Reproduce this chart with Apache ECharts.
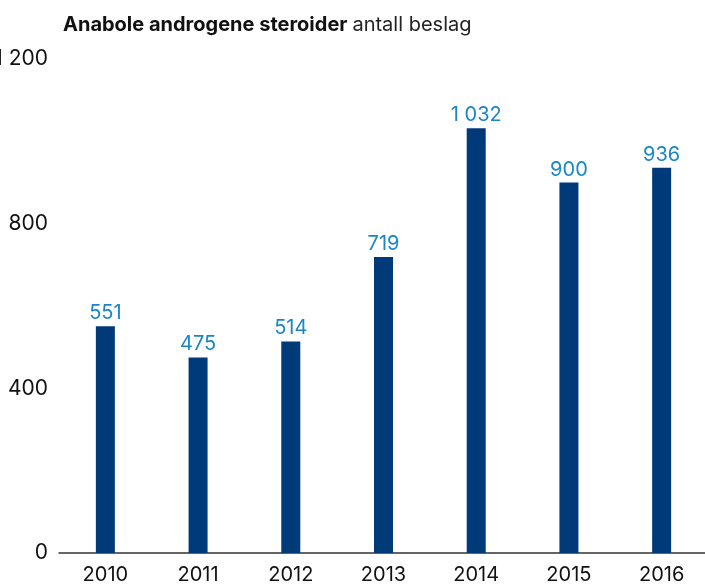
<!DOCTYPE html>
<html>
<head>
<meta charset="utf-8">
<script src="https://cdn.jsdelivr.net/npm/echarts@6/dist/echarts.min.js"></script>
<style>
  html, body { margin: 0; padding: 0; background: #fff; }
  #chart { width: 705px; height: 587px; }
</style>
</head>
<body>
<div id="chart"></div>
<script>
// data
const years = ['2010', '2011', '2012', '2013', '2014', '2015', '2016'];
const seizures = [551, 475, 514, 719, 1032, 900, 936];
const yTicks = [0, 400, 800, 1200];

const barColor = '#003a78';
const labelColor = '#1a86c8';
const font = 'Inter, Roboto, sans-serif';

// thousands with a space, like "1 032"
function fmt(v) {
  return String(v).replace(/\B(?=(\d{3})+(?!\d))/g, ' ');
}

const chart = echarts.init(document.getElementById('chart'));

chart.setOption({
  animation: false,
  title: {
    text: '{b|Anabole androgene steroider} {n|antall beslag}',
    left: 58,
    top: 10,
    textStyle: {
      rich: {
        b: {fontFamily: font, fontSize: 20, fontWeight: 'bold', color: '#111'},
        n: {fontFamily: font, fontSize: 20, fontWeight: 'normal', color: '#222'}
      }
    }
  },
  grid: {
    left: 59,
    top: 59,
    width: 649,
    height: 494,
    containLabel: false,
    outerBoundsMode: 'none'
  },
  xAxis: {
    type: 'category',
    data: years,
    axisLine: {lineStyle: {color: '#333', width: 1.5}},
    axisTick: {show: false},
    axisLabel: {
      fontFamily: font,
      fontSize: 20,
      color: '#111',
      margin: 12
    }
  },
  yAxis: {
    type: 'value',
    min: yTicks[0],
    max: yTicks[yTicks.length - 1],
    interval: 400,
    splitLine: {show: false},
    axisLine: {show: false},
    axisTick: {show: false},
    axisLabel: {
      fontFamily: font,
      fontSize: 21,
      color: '#111',
      margin: 11,
      padding: [5, 0, 0, 0],
      formatter: fmt
    }
  },
  series: [{
    type: 'bar',
    data: seizures,
    barWidth: 19,
    itemStyle: {color: barColor},
    label: {
      show: true,
      position: 'top',
      distance: 3,
      fontFamily: font,
      fontSize: 20,
      color: labelColor,
      formatter: p => fmt(p.value)
    }
  }]
});
</script>
</body>
</html>
